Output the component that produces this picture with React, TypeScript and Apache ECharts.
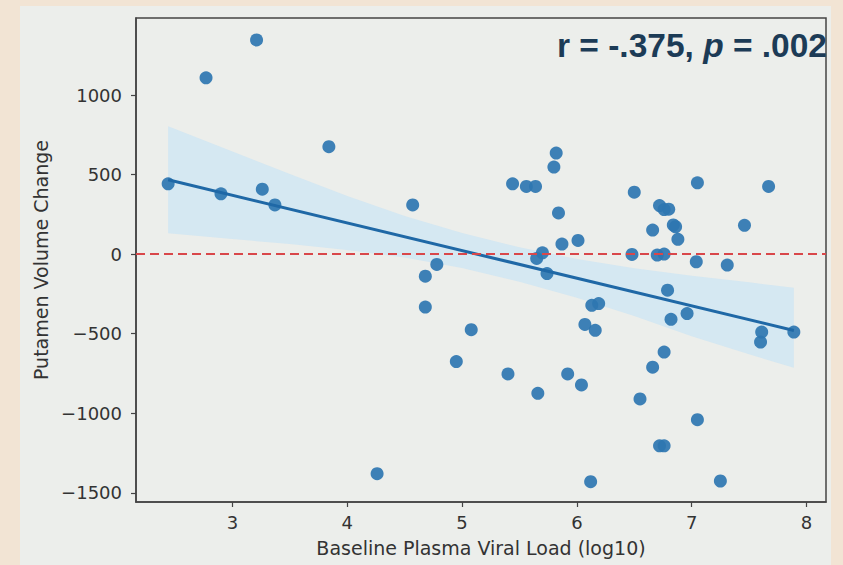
import React, { useEffect, useRef } from "react";
import * as echarts from "echarts";

// Scatter data: baseline plasma viral load (log10) vs putamen volume change
const viralLoad = [
  2.44, 2.77, 2.9, 3.21, 3.26, 3.37, 3.84, 4.26, 4.57, 4.68, 4.68, 4.78, 4.95, 5.08, 5.4, 5.44,
  5.56, 5.64, 5.65, 5.66, 5.7, 5.74, 5.8, 5.82, 5.84, 5.87, 5.92, 6.01, 6.04, 6.07, 6.12, 6.13,
  6.16, 6.19, 6.48, 6.5, 6.55, 6.66, 6.66, 6.7, 6.72, 6.72, 6.76, 6.76, 6.76, 6.76, 6.79, 6.8,
  6.82, 6.84, 6.86, 6.88, 6.96, 7.04, 7.05, 7.05, 7.25, 7.31, 7.46, 7.6, 7.61, 7.67, 7.89,
];
const volumeChange = [
  442, 1108, 379, 1346, 408, 309, 675, -1380, 309, -139, -333, -65, -675, -475, -753, 442,
  425, 425, -27, -875, 8, -122, 547, 635, 259, 63, -753, 86, -822, -442, -1430, -322,
  -479, -311, -2, 389, -910, 151, -711, -6, 305, -1205, 280, 0, -616, -1205, -227, 282,
  -410, 183, 172, 93, -374, -48, 448, -1041, -1426, -69, 181, -553, -490, 425, -490,
];

// Regression line endpoints
const fitX = [2.44, 7.89];
const fitY = [467, -480];

// Confidence band
const ciX = [2.44, 3, 3.5, 4, 4.5, 5, 5.5, 6, 6.5, 7, 7.5, 7.89];
const ciUpper = [803, 645, 503, 366, 239, 132, 43, -30, -89, -136, -177, -212];
const ciLower = [131, 95, 63, 26, -21, -88, -173, -274, -389, -516, -630, -715];

const xTicks = [3, 4, 5, 6, 7, 8];
const yTicks = [-1500, -1000, -500, 0, 500, 1000];

const annotationR = "r = -.375, ";
const annotationP = "p";
const annotationPVal = " = .002";

export default function App() {
  const ref = useRef<HTMLDivElement>(null);
  useEffect(() => {
    if (!ref.current) return;
    const chart = echarts.init(ref.current, null, { renderer: "svg" });
    const axisColor = "#444";
    const labelColor = "#333";
    const font = "DejaVu Sans";
    const points = viralLoad.map((x, i) => [x, volumeChange[i]]);
    const option: any = {
      animation: false,
      backgroundColor: "#f2e4d4",
      graphic: [
        {
          type: "rect",
          z: -10,
          silent: true,
          shape: { x: 20, y: 6, width: 811, height: 570 },
          style: { fill: "#eceeeb" },
        },
        {
          type: "text",
          z: 100,
          x: 827,
          y: 45,
          style: {
            text: `{b|${annotationR}}{i|${annotationP}}{b|${annotationPVal}}`,
            align: "right",
            verticalAlign: "middle",
            rich: {
              b: { fontFamily: "Liberation Sans", fontWeight: "bold", fontSize: 33.5, fill: "#1c3b56" },
              i: { fontFamily: "Liberation Sans", fontWeight: "bold", fontStyle: "italic", fontSize: 33.5, fill: "#1c3b56" },
            },
          },
        },
      ],
      grid: {
        left: 136,
        right: 17,
        top: 18,
        bottom: 63,
        show: true,
        borderColor: axisColor,
        borderWidth: 1.5,
        backgroundColor: "transparent",
      },
      xAxis: {
        type: "value",
        min: 2.16,
        max: 8.17,
        splitLine: { show: false },
        axisLine: { show: true, onZero: false, lineStyle: { color: axisColor, width: 1.5 } },
        axisTick: { show: true, length: 5, customValues: xTicks, lineStyle: { color: axisColor, width: 1.2 } },
        axisLabel: { customValues: xTicks, fontSize: 18, color: labelColor, margin: 11, fontFamily: font },
        name: "Baseline Plasma Viral Load (log10)",
        nameLocation: "middle",
        nameGap: 36,
        nameTextStyle: { fontSize: 19, color: labelColor, fontFamily: font },
      },
      yAxis: {
        type: "value",
        min: -1558,
        max: 1484,
        splitLine: { show: false },
        axisLine: { show: true, onZero: false, lineStyle: { color: axisColor, width: 1.5 } },
        axisTick: { show: true, length: 5, customValues: yTicks, lineStyle: { color: axisColor, width: 1.2 } },
        axisLabel: {
          customValues: yTicks,
          fontSize: 18,
          color: labelColor,
          margin: 14,
          fontFamily: font,
          formatter: (v: number) => (v < 0 ? "\u2212" + Math.abs(v) : String(v)),
        },
        name: "Putamen Volume Change",
        nameLocation: "middle",
        nameGap: 84,
        nameRotate: 90,
        nameTextStyle: { fontSize: 19, color: labelColor, fontFamily: font },
      },
      series: [
        {
          type: "custom",
          name: "ci",
          z: 1,
          silent: true,
          data: [[ciX[0], ciUpper[0]]],
          renderItem: (params: any, api: any) => {
            const up = ciX.map((x, i) => api.coord([x, ciUpper[i]]));
            const lo = ciX.map((x, i) => api.coord([x, ciLower[i]])).reverse();
            return {
              type: "polygon",
              shape: { points: up.concat(lo) },
              style: { fill: "rgba(190, 226, 250, 0.5)" },
            };
          },
        },
        {
          type: "scatter",
          z: 3,
          symbolSize: 13,
          itemStyle: { color: "#2e76b1", opacity: 0.92 },
          data: points,
        },
        {
          type: "line",
          z: 4,
          symbol: "none",
          lineStyle: { color: "#1f68a6", width: 3 },
          data: fitX.map((x, i) => [x, fitY[i]]),
        },
        {
          type: "line",
          z: 5,
          symbol: "none",
          data: [],
          markLine: {
            silent: true,
            symbol: "none",
            label: { show: false },
            lineStyle: { color: "#d9474a", width: 2, type: [9, 5] },
            data: [{ yAxis: 0 }],
          },
        },
      ],
    };
    chart.setOption(option);
    return () => chart.dispose();
  }, []);
  return (
    <div
      ref={ref}
      style={{ position: "fixed", left: 0, top: 0, width: 843, height: 565 }}
    />
  );
}
